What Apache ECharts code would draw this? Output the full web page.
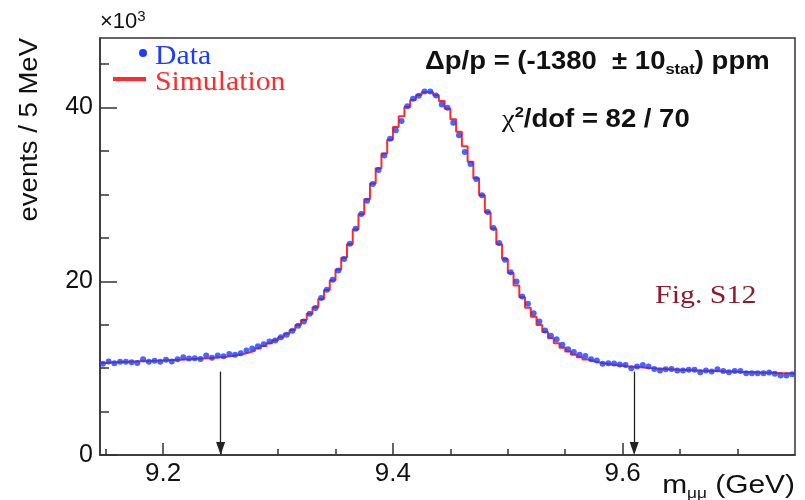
<!DOCTYPE html>
<html>
<head>
<meta charset="utf-8">
<script src="https://cdn.jsdelivr.net/npm/echarts@6/dist/echarts.min.js"></script>
<style>
  html, body { margin: 0; padding: 0; background: #fff; }
  #chart { width: 805px; height: 500px; }
</style>
</head>
<body>
<div id="chart"></div>
<script>
// binning of the m_mumu histogram (GeV)
const massMin = 9.145
const massMax = 9.75
const binWidth = 0.005

// events / 5 MeV, in units of 10^3
const dataEvents = [
  10.49, 10.76, 10.57, 10.72, 10.72, 10.68, 10.60, 11.03, 10.72, 10.84,
  10.72, 10.95, 10.76, 11.03, 11.26, 11.10, 11.14, 11.06, 11.45, 11.18,
  11.45, 11.37, 11.64, 11.53, 11.72, 12.03, 12.26, 12.53, 12.76, 13.06,
  13.18, 13.56, 13.83, 14.29, 14.87, 15.37, 16.25, 16.91, 18.06, 19.02,
  20.17, 21.25, 22.56, 24.32, 26.05, 27.74, 29.28, 31.20, 32.82, 34.47,
  36.39, 37.39, 38.46, 40.15, 41.00, 41.35, 41.84, 41.84, 41.38, 40.35,
  39.96, 38.24, 36.81, 34.89, 33.51, 31.78, 29.89, 27.97, 26.13, 24.40,
  22.48, 21.04, 19.98, 18.25, 17.41, 16.33, 15.37, 14.33, 13.72, 13.33,
  12.68, 12.18, 11.87, 11.53, 11.41, 11.03, 10.87, 10.49, 10.57, 10.53,
  10.41, 10.37, 9.99, 10.18, 10.37, 10.18, 9.91, 9.72, 9.87, 9.91,
  9.72, 9.72, 9.80, 9.80, 9.53, 9.72, 9.60, 9.87, 9.68, 9.53,
  9.68, 9.68, 9.41, 9.41, 9.41, 9.41, 9.49, 9.34, 9.14, 9.14,
  9.30
]

const simEvents = [
  10.60, 10.64, 10.67, 10.70, 10.72, 10.75, 10.78, 10.80, 10.83, 10.86,
  10.88, 10.91, 10.94, 10.97, 11.00, 11.03, 11.07, 11.11, 11.15, 11.20,
  11.25, 11.32, 11.40, 11.50, 11.62, 11.80, 12.00, 12.25, 12.55, 12.85,
  13.20, 13.55, 13.95, 14.40, 14.95, 15.55, 16.25, 17.00, 17.95, 19.00,
  20.10, 21.35, 22.70, 24.25, 25.95, 27.70, 29.45, 31.25, 33.00, 34.70,
  36.30, 37.75, 39.00, 40.05, 40.85, 41.45, 41.75, 41.75, 41.40, 40.75,
  39.85, 38.65, 37.20, 35.55, 33.75, 31.85, 29.90, 27.95, 26.05, 24.25,
  22.55, 20.95, 19.50, 18.15, 16.95, 15.90, 14.95, 14.15, 13.45, 12.85,
  12.35, 11.90, 11.55, 11.25, 11.00, 10.80, 10.65, 10.52, 10.42, 10.34,
  10.27, 10.20, 10.15, 10.10, 10.05, 10.00, 9.96, 9.92, 9.88, 9.85,
  9.82, 9.79, 9.76, 9.73, 9.70, 9.68, 9.66, 9.64, 9.62, 9.60,
  9.58, 9.56, 9.54, 9.52, 9.50, 9.48, 9.46, 9.44, 9.42, 9.40,
  9.38
]

// axis ticks
const xMajorTicks = [9.2, 9.4, 9.6]
const xMinorTicks = [9.15, 9.25, 9.3, 9.35, 9.45, 9.5, 9.55, 9.65, 9.7]
const yMajorTicks = [0, 20, 40]
const yMinorTicks = [5, 10, 15, 25, 30, 35, 45]

// fit window arrows
const cutMasses = [9.25, 9.61]
const arrowFrom = 9.6
const arrowTo = 0.75

const sans = 'Liberation Sans, Helvetica, Arial, sans-serif'
const serif = 'Liberation Serif, Times New Roman, serif'
const axisColor = '#333'

const binCenters = dataEvents.map((v, i) => +(massMin + binWidth * (i + 0.5)).toFixed(4))
const binEdges = simEvents.map((v, i) => +(massMin + binWidth * i).toFixed(4))

//data points
const dataPoints = dataEvents.map((v, i) => [binCenters[i], v])

//simulation histogram (step through bin edges)
const simSteps = simEvents.map((v, i) => [binEdges[i], v])
simSteps.push([massMax, simEvents[simEvents.length - 1]])

const chart = echarts.init(document.getElementById('chart'), null, {renderer: 'canvas'})

chart.setOption({
  animation: false,
  backgroundColor: '#fff',
  grid: {
    left: 100,
    top: 38,
    width: 695,
    height: 417,
    show: true,
    borderColor: axisColor,
    borderWidth: 1.5,
    backgroundColor: 'transparent',
  },
  xAxis: [
    {
      type: 'value',
      min: massMin,
      max: massMax,
      position: 'bottom',
      axisLine: {show: true, lineStyle: {color: axisColor, width: 1.5}},
      axisTick: {show: true, inside: true, length: 12, customValues: xMajorTicks, lineStyle: {color: axisColor, width: 1.5}},
      axisLabel: {
        customValues: xMajorTicks,
        formatter: function (v) { return v.toFixed(1) },
        fontSize: 26,
        fontFamily: sans,
        color: '#111',
        margin: 6,
      },
      splitLine: {show: false},
    },
    {
      type: 'value',
      min: massMin,
      max: massMax,
      position: 'bottom',
      axisLine: {show: false},
      axisTick: {show: true, inside: true, length: 6, customValues: xMinorTicks, lineStyle: {color: axisColor, width: 1.5}},
      axisLabel: {show: false},
      splitLine: {show: false},
    },
  ],
  yAxis: [
    {
      type: 'value',
      min: 0,
      max: 48,
      position: 'left',
      axisLine: {show: true, lineStyle: {color: axisColor, width: 1.5}},
      axisTick: {show: true, inside: true, length: 17, customValues: yMajorTicks, lineStyle: {color: axisColor, width: 1.5}},
      axisLabel: {
        customValues: yMajorTicks,
        fontSize: 25,
        fontFamily: sans,
        color: '#111',
        margin: 7,
      },
      splitLine: {show: false},
    },
    {
      type: 'value',
      min: 0,
      max: 48,
      position: 'left',
      axisLine: {show: false},
      axisTick: {show: true, inside: true, length: 9, customValues: yMinorTicks, lineStyle: {color: axisColor, width: 1.5}},
      axisLabel: {show: false},
      splitLine: {show: false},
    },
  ],
  series: [
    {
      name: 'Simulation',
      type: 'line',
      step: 'end',
      xAxisIndex: 0,
      yAxisIndex: 0,
      data: simSteps,
      showSymbol: false,
      lineStyle: {color: '#ff2b2b', width: 2},
      z: 2,
    },
    {
      name: 'Data',
      type: 'scatter',
      xAxisIndex: 0,
      yAxisIndex: 0,
      data: dataPoints,
      symbol: 'circle',
      symbolSize: 6,
      itemStyle: {color: '#1e3cff'},
      z: 3,
      markLine: {
        silent: true,
        symbol: ['none', 'triangle'],
        symbolSize: [9, 13],
        label: {show: false},
        lineStyle: {color: '#222', width: 1.3, type: 'solid'},
        data: cutMasses.map(m => [{coord: [m, arrowFrom]}, {coord: [m, arrowTo]}]),
      },
    },
  ],
  graphic: [
    //x10^3
    {
      type: 'text', x: 100, y: 22,
      style: {
        text: '{a|×10}{p|3}',
        verticalAlign: 'middle',
        fill: '#111',
        rich: {
          a: {fontSize: 22, fontFamily: sans, lineHeight: 26, fill: '#111'},
          p: {fontSize: 15, fontFamily: sans, lineHeight: 15, verticalAlign: 'top', fill: '#111'},
        },
      },
    },
    //y title
    {
      type: 'text', x: 30, y: 38, rotation: Math.PI / 2, scaleX: 1.1,
      style: {text: 'events / 5 MeV', fontSize: 25, fontFamily: sans, fill: '#111', align: 'right', verticalAlign: 'middle'},
    },
    //x title
    {
      type: 'text', x: 795, y: 486, scaleX: 1.15,
      style: {
        text: '{m|m}{s|μμ}{g| (GeV)}',
        align: 'right',
        verticalAlign: 'middle',
        rich: {
          m: {fontSize: 26, fontFamily: sans, lineHeight: 30, fill: '#111'},
          s: {fontSize: 15, fontFamily: sans, lineHeight: 15, verticalAlign: 'bottom', fill: '#111'},
          g: {fontSize: 26, fontFamily: sans, lineHeight: 30, fill: '#111'},
        },
      },
    },
    //legend
    {type: 'circle', shape: {cx: 143, cy: 53, r: 4}, style: {fill: '#1e3cff'}},
    {type: 'line', shape: {x1: 113, y1: 79, x2: 146, y2: 79}, style: {stroke: '#ff2b2b', lineWidth: 4}},
    {type: 'text', x: 155, y: 57, scaleX: 1.1, style: {text: 'Data', fontSize: 27, fontFamily: serif, fill: '#1e3cff', verticalAlign: 'middle'}},
    {type: 'text', x: 155, y: 83, scaleX: 1.1, style: {text: 'Simulation', fontSize: 27, fontFamily: serif, fill: '#ff2b2b', verticalAlign: 'middle'}},
    //fit result
    {
      type: 'text', x: 425, y: 62, scaleX: 1.1,
      style: {
        text: '{b|Δp/p = (-1380  ± 10}{s|stat}{b|) ppm}',
        verticalAlign: 'middle',
        rich: {
          b: {fontSize: 25, fontWeight: 'bold', fontFamily: sans, lineHeight: 30, fill: '#111'},
          s: {fontSize: 15, fontWeight: 'bold', fontFamily: sans, lineHeight: 15, verticalAlign: 'bottom', fill: '#111'},
        },
      },
    },
    {
      type: 'text', x: 502, y: 120, scaleX: 1.1,
      style: {
        text: '{c|χ}{p|2}{b|/dof = 82 / 70}',
        verticalAlign: 'middle',
        rich: {
          c: {fontSize: 26, fontFamily: serif, lineHeight: 30, fill: '#111'},
          p: {fontSize: 15, fontWeight: 'bold', fontFamily: sans, lineHeight: 15, verticalAlign: 'top', fill: '#111'},
          b: {fontSize: 25, fontWeight: 'bold', fontFamily: sans, lineHeight: 30, fill: '#111'},
        },
      },
    },
    {
      type: 'text', x: 655, y: 296, scaleX: 1.15,
      style: {text: 'Fig. S12', fontSize: 26, fontFamily: serif, fill: '#8b1a2e', verticalAlign: 'middle'},
    },
  ],
})
</script>
</body>
</html>
